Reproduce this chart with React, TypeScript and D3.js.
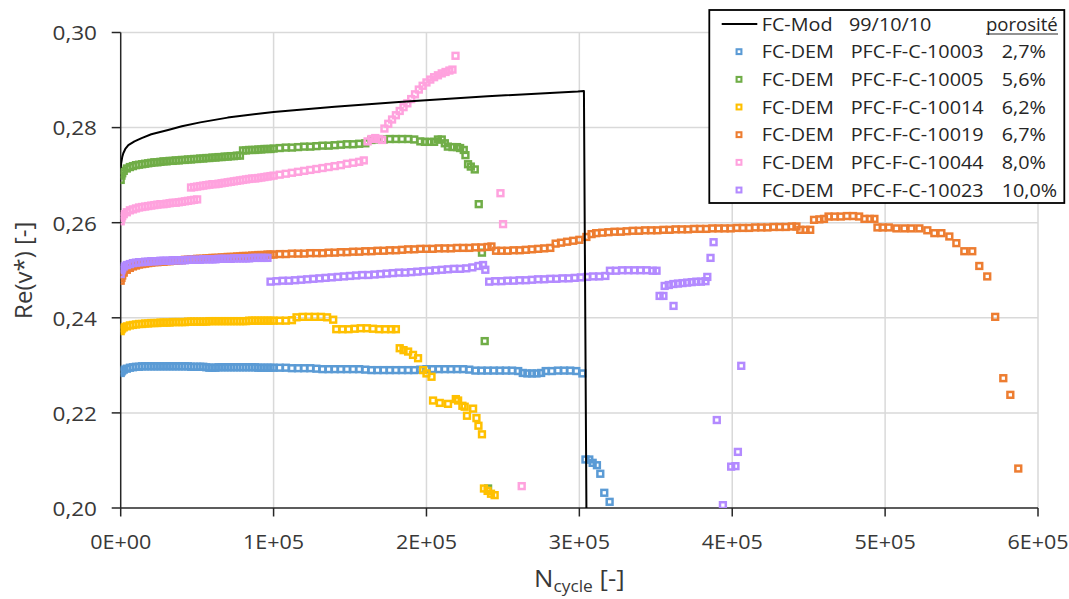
import React from "react";
import * as d3 from "d3";

type P = [number, number]; // [N in thousands of cycles, Re(v*)]

const xTicks = [0, 100000, 200000, 300000, 400000, 500000, 600000];
const yTicks = [0.2, 0.22, 0.24, 0.26, 0.28, 0.3];

const fcModName = "FC-Mod";
const fcModLabel = "99/10/10";
const fcMod: P[] = [
  [0, 0.2715], [0.3, 0.2725], [1, 0.2738], [1.7, 0.2746], [3, 0.2755], [5, 0.2763], [9, 0.2771], [13.7, 0.2778],
  [20, 0.2786], [31, 0.2795], [40, 0.2803], [52, 0.2811], [70, 0.2821], [100, 0.2833], [140, 0.2844], [182, 0.2854],
  [240, 0.2866], [299, 0.2876], [303, 0.2877], [304.8, 0.19],
];

const pfc10003: P[] = [
  [0, 0.2284], [0.5, 0.2287], [1, 0.2289], [2, 0.2291], [4, 0.2293], [6, 0.2295], [8, 0.2296], [10, 0.2297], [12, 0.2297],
  [14, 0.2298], [16, 0.2298], [18, 0.2298], [20, 0.2298], [22, 0.2298], [24, 0.2298], [26, 0.2298], [28, 0.2298], [30, 0.2298],
  [32, 0.2298], [34, 0.2298], [36, 0.2298], [38, 0.2298], [40, 0.2298], [42, 0.2298], [44, 0.2298], [46, 0.2297], [48, 0.2297],
  [50, 0.2297], [52, 0.2297], [54, 0.2297], [56, 0.2296], [58, 0.2295], [60, 0.2295], [62, 0.2295], [64, 0.2296], [66, 0.2296],
  [68, 0.2296], [70, 0.2296], [72, 0.2296], [74, 0.2296], [76, 0.2296], [78, 0.2296], [80, 0.2296], [82, 0.2296], [84, 0.2296],
  [86, 0.2296], [88, 0.2296], [90, 0.2295], [92, 0.2295], [94, 0.2295], [96, 0.2295], [98, 0.2295], [100, 0.2295],
  [104, 0.2295], [108, 0.2295], [112, 0.2294], [116, 0.2294], [120, 0.2294], [124, 0.2294], [128, 0.2293], [132, 0.2292],
  [136, 0.2292], [140, 0.2292], [144, 0.2292], [148, 0.2292], [152, 0.2292], [156, 0.2292], [160, 0.2291], [164, 0.229],
  [168, 0.229], [172, 0.229], [176, 0.229], [180, 0.229], [184, 0.229], [188, 0.229], [192, 0.229], [196, 0.2291], [200, 0.2292],
  [204, 0.2292], [208, 0.2292], [212, 0.2292], [216, 0.2292], [220, 0.2292], [224, 0.2292], [228, 0.2291], [232, 0.2289],
  [236, 0.2289], [240, 0.2289], [244, 0.2289], [248, 0.2289], [252, 0.2289], [256, 0.2289], [260, 0.2288], [263, 0.2284],
  [266, 0.2283], [269, 0.2283], [272, 0.2283], [275, 0.2284], [278, 0.2288], [282, 0.2288], [286, 0.2289], [290, 0.2289],
  [294, 0.2289], [298, 0.2288], [302, 0.2283],
  [304, 0.2102], [306.5, 0.2102], [308.7, 0.2095], [311.5, 0.209], [313.7, 0.2072], [316.3, 0.2032], [319.8, 0.2013],
];

const pfc10005: P[] = [
  [0, 0.269], [0.5, 0.2699], [1, 0.2704], [2, 0.2709], [4, 0.2714], [6, 0.2717], [8, 0.2719], [10, 0.2721], [12, 0.2722],
  [14, 0.2723], [16, 0.2724], [18, 0.2725], [20, 0.2726], [22, 0.2727], [24, 0.2727], [26, 0.2728], [28, 0.2729], [30, 0.2729],
  [32, 0.273], [34, 0.273], [36, 0.2731], [38, 0.2731], [40, 0.2732], [42, 0.2732], [44, 0.2733], [46, 0.2733], [48, 0.2734],
  [50, 0.2734], [52, 0.2735], [54, 0.2735], [56, 0.2736], [58, 0.2736], [60, 0.2737], [62, 0.2737], [64, 0.2738], [66, 0.2738],
  [68, 0.2739], [70, 0.2739], [72, 0.274], [74, 0.274], [76, 0.2741], [78, 0.2741], [80, 0.2752], [82, 0.2752], [84, 0.2753],
  [86, 0.2753], [88, 0.2753], [90, 0.2754], [92, 0.2754], [94, 0.2755], [96, 0.2755], [98, 0.2755], [100, 0.2756],
  [104, 0.2757], [108, 0.2758], [112, 0.2758], [116, 0.2759], [120, 0.276], [124, 0.276], [128, 0.2761], [132, 0.2762],
  [136, 0.2762], [140, 0.2763], [144, 0.2764], [148, 0.2765], [152, 0.2765], [156, 0.2766], [160, 0.2767], [164, 0.2774],
  [168, 0.2775], [172, 0.2775], [176, 0.2776], [180, 0.2776], [184, 0.2776], [188, 0.2776], [192, 0.2775], [196, 0.2771],
  [199, 0.277], [202, 0.277], [205, 0.277], [207.5, 0.2775], [210, 0.2775], [212, 0.2767], [214, 0.276], [217, 0.2759],
  [220, 0.2759], [222, 0.2757], [224.4, 0.2753], [225.5, 0.2742], [227.2, 0.2723], [229, 0.2718], [231.6, 0.2712],
  [234.2, 0.2639], [236.3, 0.2537], [238.1, 0.2351], [240.3, 0.2041],
];

const pfc10014: P[] = [
  [0, 0.2372], [0.5, 0.2376], [1, 0.2378], [2, 0.238], [4, 0.2382], [6, 0.2384], [8, 0.2385], [10, 0.2386], [12, 0.2387],
  [14, 0.2387], [16, 0.2388], [18, 0.2388], [20, 0.2389], [22, 0.2389], [24, 0.2389], [26, 0.239], [28, 0.239], [30, 0.239],
  [32, 0.239], [34, 0.2391], [36, 0.2391], [38, 0.2391], [40, 0.2391], [42, 0.2391], [44, 0.2392], [46, 0.2392], [48, 0.2392],
  [50, 0.2392], [52, 0.2392], [54, 0.2392], [56, 0.2392], [58, 0.2393], [60, 0.2393], [62, 0.2393], [64, 0.2393], [66, 0.2393],
  [68, 0.2393], [70, 0.2393], [72, 0.2393], [74, 0.2393], [76, 0.2393], [78, 0.2393], [80, 0.2393], [82, 0.2393], [84, 0.2394],
  [86, 0.2394], [88, 0.2394], [90, 0.2394], [92, 0.2394], [94, 0.2394], [96, 0.2394], [98, 0.2394], [100, 0.2394],
  [104, 0.2394], [108, 0.2394], [112, 0.2395], [115, 0.2401], [119, 0.2402], [123, 0.2402], [127, 0.2402], [131, 0.2402],
  [135, 0.2401], [139, 0.2396], [141, 0.2376], [145, 0.2376], [149, 0.2376], [153, 0.2377], [157, 0.2378], [161, 0.2378],
  [165, 0.2377], [169, 0.2376], [173, 0.2376], [177, 0.2376], [180, 0.2376],
  [182.5, 0.2336], [185, 0.2332], [188, 0.2329], [191.2, 0.2322], [194.5, 0.2315], [197.8, 0.229], [200, 0.2283],
  [203.3, 0.2276], [204.3, 0.2226], [208.7, 0.2221], [214.1, 0.2219], [219.2, 0.2229], [220.7, 0.2226], [223.5, 0.2215],
  [225, 0.2213], [226.5, 0.2194], [230.5, 0.2209], [232.7, 0.2189], [234, 0.2173], [236.3, 0.2155], [237.6, 0.2041],
  [240, 0.2036], [242.2, 0.203], [244.6, 0.2027],
];

const pfc10019: P[] = [
  [0, 0.2478], [0.5, 0.2484], [1, 0.2489], [2, 0.2495], [4, 0.2501], [6, 0.2505], [8, 0.2508], [10, 0.251], [12, 0.2512],
  [14, 0.2513], [16, 0.2514], [18, 0.2515], [20, 0.2516], [22, 0.2517], [24, 0.2517], [26, 0.2518], [28, 0.2518], [30, 0.2519],
  [32, 0.2519], [34, 0.252], [36, 0.252], [38, 0.2521], [40, 0.2521], [42, 0.2522], [44, 0.2522], [46, 0.2523], [48, 0.2523],
  [50, 0.2524], [52, 0.2524], [54, 0.2524], [56, 0.2525], [58, 0.2525], [60, 0.2526], [62, 0.2526], [64, 0.2526], [66, 0.2527],
  [68, 0.2527], [70, 0.2528], [72, 0.2528], [74, 0.2528], [76, 0.2529], [78, 0.2529], [80, 0.253], [82, 0.253], [84, 0.253],
  [86, 0.2531], [88, 0.2531], [90, 0.2532], [92, 0.2532], [94, 0.2532], [96, 0.2533], [98, 0.2533], [100, 0.2533],
  [104, 0.2534], [108, 0.2534], [112, 0.2535], [116, 0.2535], [120, 0.2535], [124, 0.2536], [128, 0.2536], [132, 0.2536],
  [136, 0.2537], [140, 0.2537], [144, 0.2538], [148, 0.2538], [152, 0.2539], [156, 0.2539], [160, 0.254], [164, 0.254],
  [168, 0.2541], [172, 0.2541], [176, 0.2542], [180, 0.2542], [184, 0.2543], [188, 0.2544], [192, 0.2544], [196, 0.2545],
  [200, 0.2545], [204, 0.2545], [208, 0.2546], [212, 0.2546], [216, 0.2546], [220, 0.2547], [224, 0.2547], [228, 0.2547],
  [232, 0.2548], [236, 0.2548], [240, 0.2549], [242.5, 0.255], [245.5, 0.2541], [249, 0.2541], [253, 0.2541], [257, 0.2542],
  [261, 0.2542], [265, 0.2543], [269, 0.2544], [273, 0.2545], [277, 0.2546], [281, 0.2547], [284.5, 0.2556], [288, 0.2558],
  [292, 0.256], [296, 0.2562], [300, 0.2564], [304.6, 0.257], [308, 0.2576], [311, 0.2578], [315, 0.2579], [319, 0.258],
  [323, 0.2581], [327, 0.2581], [331, 0.2582], [335, 0.2583], [339, 0.2583], [343, 0.2584], [347, 0.2584], [351, 0.2584],
  [355, 0.2585], [359, 0.2585], [363, 0.2586], [367, 0.2586], [371, 0.2586], [375, 0.2587], [379, 0.2587], [383, 0.2587],
  [387, 0.2588], [391, 0.2588], [395, 0.2588], [399, 0.2588], [403, 0.2589], [407, 0.2589], [411, 0.2589], [415, 0.259],
  [419, 0.259], [423, 0.259], [427, 0.2591], [431, 0.2591], [435, 0.2591], [439, 0.2592], [442, 0.2592], [444.5, 0.2585],
  [448, 0.2585], [451, 0.2585], [453.5, 0.2606], [457, 0.2607], [460, 0.2608], [463, 0.2613], [467, 0.2613], [471, 0.2613],
  [475, 0.2614], [479, 0.2614], [483, 0.2613], [486.5, 0.2608], [490, 0.2608], [493, 0.2608], [495, 0.259], [498.4, 0.259],
  [502.4, 0.259], [507.4, 0.2588], [512.6, 0.2588], [517.2, 0.2588], [522.4, 0.2588], [527.6, 0.2584], [532.2, 0.2578],
  [536.8, 0.2578], [542, 0.2571], [546.6, 0.2557], [551.8, 0.254], [557, 0.254], [561.6, 0.2509], [566.8, 0.2487],
  [572, 0.2402], [577.3, 0.2273], [581.9, 0.2238], [587.1, 0.2083],
];

const pfc10044: P[] = [
  [0, 0.2603], [0.5, 0.261], [1, 0.2614], [2, 0.2618], [4, 0.2622], [6, 0.2626], [8, 0.2628], [10, 0.263], [12, 0.2632],
  [14, 0.2633], [16, 0.2634], [18, 0.2635], [20, 0.2636], [22, 0.2637], [24, 0.2638], [26, 0.2639], [28, 0.2639], [30, 0.264],
  [32, 0.2641], [34, 0.2642], [36, 0.2642], [38, 0.2643], [40, 0.2644], [42, 0.2645], [44, 0.2646], [46, 0.2647], [48, 0.2648],
  [50, 0.2649],
  [46, 0.2674], [48, 0.2675], [50, 0.2676], [52, 0.2677], [54, 0.2678], [56, 0.2679], [58, 0.268], [60, 0.2681], [62, 0.2681],
  [64, 0.2682], [66, 0.2683], [68, 0.2684], [70, 0.2685], [72, 0.2686], [74, 0.2687], [76, 0.2688], [78, 0.2689], [80, 0.269],
  [82, 0.2691], [84, 0.2692], [86, 0.2693], [88, 0.2693], [90, 0.2694], [92, 0.2695], [94, 0.2696], [96, 0.2697], [98, 0.2698],
  [100, 0.2699], [104, 0.2701], [108, 0.2703], [112, 0.2705], [116, 0.2707], [120, 0.2709], [124, 0.2711], [128, 0.2713],
  [132, 0.2715], [136, 0.2717], [140, 0.2719], [144, 0.2721], [148, 0.2724], [152, 0.2726], [156, 0.2728], [159, 0.2731],
  [161.5, 0.2771], [164, 0.2776], [166.5, 0.2778], [169, 0.2776], [171, 0.2774],
  [172.5, 0.2798], [175, 0.2808], [177.5, 0.2817], [180, 0.2826], [182.5, 0.2835], [185, 0.2843], [187.5, 0.2851],
  [190, 0.286], [192.5, 0.287], [195, 0.288], [197.5, 0.2888], [200, 0.2895], [202.5, 0.2901], [205, 0.2906], [207.5, 0.291],
  [210, 0.2914], [212.5, 0.2917], [215, 0.292], [217, 0.2922], [219, 0.2951],
  [248.4, 0.2662], [250.1, 0.2597], [262.3, 0.2046],
];

const pfc10023: P[] = [
  [0, 0.2492], [0.5, 0.25], [1, 0.2504], [2, 0.2508], [4, 0.2511], [6, 0.2513], [8, 0.2515], [10, 0.2516], [12, 0.2517],
  [14, 0.2517], [16, 0.2518], [18, 0.2518], [20, 0.2519], [22, 0.2519], [24, 0.2519], [26, 0.252], [28, 0.252], [30, 0.252],
  [32, 0.252], [34, 0.2521], [36, 0.2521], [38, 0.2521], [40, 0.2521], [42, 0.2521], [44, 0.2522], [46, 0.2522], [48, 0.2522],
  [50, 0.2522], [52, 0.2522], [54, 0.2523], [56, 0.2523], [58, 0.2523], [60, 0.2523], [62, 0.2523], [64, 0.2524], [66, 0.2524],
  [68, 0.2524], [70, 0.2524], [72, 0.2524], [74, 0.2525], [76, 0.2525], [78, 0.2525], [80, 0.2525], [82, 0.2525], [84, 0.2525],
  [86, 0.2526], [88, 0.2526], [90, 0.2526], [92, 0.2526], [94, 0.2526], [96, 0.2526],
  [98, 0.2476], [102, 0.2477], [106, 0.2478], [110, 0.2478], [114, 0.2479], [118, 0.248], [122, 0.2481], [126, 0.2482],
  [130, 0.2483], [134, 0.2484], [138, 0.2485], [142, 0.2486], [146, 0.2487], [150, 0.2488], [154, 0.2489], [158, 0.249],
  [162, 0.249], [166, 0.2491], [170, 0.2492], [174, 0.2493], [178, 0.2494], [182, 0.2495], [186, 0.2495], [190, 0.2496],
  [194, 0.2497], [198, 0.2498], [202, 0.2499], [206, 0.25], [210, 0.2501], [214, 0.2502], [218, 0.2503], [222, 0.2503],
  [226, 0.2504], [230, 0.2506], [234, 0.2509], [237, 0.2511], [238.5, 0.2501],
  [241, 0.2476], [245, 0.2477], [249, 0.2477], [253, 0.2478], [257, 0.2478], [261, 0.2479], [265, 0.2479], [269, 0.248],
  [273, 0.2481], [277, 0.2481], [281, 0.2482], [285, 0.2482], [289, 0.2483], [293, 0.2483], [297, 0.2484], [301, 0.2485],
  [305, 0.2486], [309, 0.2487], [313, 0.2487], [317, 0.2488], [320, 0.2499], [324, 0.2499], [328, 0.25], [332, 0.25],
  [336, 0.25], [340, 0.25], [344, 0.25], [348, 0.2499], [350.5, 0.2499],
  [352.5, 0.2446], [355, 0.2446], [355.8, 0.2467], [358.5, 0.2469], [361.5, 0.2471], [361.6, 0.2425], [364.5, 0.2472],
  [367.5, 0.2473], [370.5, 0.2474], [373.5, 0.2475], [376.5, 0.2476], [379.5, 0.2476], [382.5, 0.2477], [383.7, 0.2486],
  [385.8, 0.2526], [387.8, 0.2559], [389.9, 0.2185], [393.9, 0.2006], [399.3, 0.2087], [402.1, 0.2088], [403.7, 0.2118],
  [405.9, 0.2299],
];

const seriesMethod = "FC-DEM";
const seriesNames = ["PFC-F-C-10003", "PFC-F-C-10005", "PFC-F-C-10014", "PFC-F-C-10019", "PFC-F-C-10044", "PFC-F-C-10023"];
const seriesPorosity = ["2,7%", "5,6%", "6,2%", "6,7%", "8,0%", "10,0%"];
const seriesData = [pfc10003, pfc10005, pfc10014, pfc10019, pfc10044, pfc10023];
const porosityHeader = "porosité";
const yTitle = "Re(v*) [-]";

const COLORS = ["#5B9BD5", "#70AD47", "#FFC000", "#ED7D31", "#FFA2DE", "#B38AFF"];
const FONT = "'Open Sans', sans-serif";
const TXT = "#383838";

function T(props: {
  x: number; y: number; size: number; anchor?: string; sx?: number; fill?: string; children: React.ReactNode;
}) {
  const { x, y, size, anchor = "start", sx = 1.1, fill = TXT, children } = props;
  return (
    <text transform={`translate(${x},${y}) scale(${sx},1)`} textAnchor={anchor as any}
      fontSize={size} fontFamily={FONT} fill={fill}>{children}</text>
  );
}

export default function App() {
  const W = 1069, H = 599;
  const PL = 120.7, PR = 1038, PT = 32.5, PB = 508;
  const x = d3.scaleLinear().domain([0, 600000]).range([PL, PR]);
  const y = d3.scaleLinear().domain([0.2, 0.3]).range([PB, PT]);
  const xk = (n: number) => x(n * 1000);
  const line = d3.line<P>().x((d) => xk(d[0])).y((d) => y(d[1]));
  const xFmt = (d: number) => (d === 0 ? "0E+00" : `${d / 100000}E+05`);
  const yFmt = (d: number) => d.toFixed(2).replace(".", ",");
  const MS = 5.8, MW = 2.5;

  const legX = 709.3, legY = 10, legW = 355, legH = 193;
  const rowY = (i: number) => 24 + i * 27.67;

  return (
    <svg width={W} height={H} style={{ position: "absolute", left: 0, top: 0, background: "#fff" }}>
      <defs>
        <clipPath id="plotClip">
          <rect x={PL} y={PT - 5} width={PR - PL + 5} height={PB - PT + 5} />
        </clipPath>
      </defs>
      <rect x={0} y={0} width={W} height={H} fill="#fff" />
      {yTicks.filter((t) => t > 0.2001).map((t) => (
        <line key={"gy" + t} x1={PL} x2={PR} y1={y(t)} y2={y(t)} stroke="#D9D9D9" strokeWidth={1.5} />
      ))}
      {xTicks.filter((t) => t > 0).map((t) => (
        <line key={"gx" + t} x1={x(t)} x2={x(t)} y1={PT} y2={PB} stroke="#D9D9D9" strokeWidth={1.5} />
      ))}
      <line x1={PL} x2={PL} y1={PT} y2={PB} stroke="#262626" strokeWidth={1.5} />
      <line x1={PL} x2={PR} y1={PB} y2={PB} stroke="#262626" strokeWidth={1.5} />
      {yTicks.map((t) => (
        <g key={"ty" + t}>
          <line x1={PL - 9} x2={PL} y1={y(t)} y2={y(t)} stroke="#262626" strokeWidth={1.5} />
          <T x={97} y={y(t) + 7.8} size={20.5} anchor="end">{yFmt(t)}</T>
        </g>
      ))}
      {xTicks.map((t) => (
        <g key={"tx" + t}>
          <line x1={x(t)} x2={x(t)} y1={PB} y2={PB + 8.5} stroke="#262626" strokeWidth={1.5} />
          <T x={x(t)} y={548.5} size={20.5} anchor="middle" sx={1.05}>{xFmt(t)}</T>
        </g>
      ))}
      <text transform={`translate(32,${(PT + PB) / 2}) rotate(-90)`} textAnchor="middle" fontSize={24}
        fontFamily={FONT} fill={TXT}>{yTitle}</text>
      <text transform="translate(534,587) scale(1.12,1)" fontSize={23} fontFamily={FONT} fill={TXT}>
        N<tspan fontSize={15.5} dy={5}>cycle</tspan><tspan dy={-5}> [-]</tspan>
      </text>

      <g clipPath="url(#plotClip)">
        {seriesData.map((data, si) => (
          <g key={"s" + si}>
            {data.map((d, i) => (
              <rect key={i} x={xk(d[0]) - MS / 2} y={y(d[1]) - MS / 2} width={MS} height={MS}
                fill="none" stroke={COLORS[si]} strokeWidth={MW} />
            ))}
          </g>
        ))}
        <path d={line(fcMod) || ""} fill="none" stroke="#000" strokeWidth={2} strokeLinejoin="round" />
      </g>

      <rect x={legX} y={legY} width={legW} height={legH} fill="#fff" stroke="#000" strokeWidth={1.8} />
      <line x1={721.7} x2={757.3} y1={rowY(0)} y2={rowY(0)} stroke="#000" strokeWidth={2.2} />
      <T x={761.7} y={rowY(0) + 6.5} size={18} sx={1.1} fill="#262626">{fcModName}</T>
      <T x={849} y={rowY(0) + 6.5} size={18} sx={1.1} fill="#262626">{fcModLabel}</T>
      <T x={986} y={rowY(0) + 6.5} size={18} sx={1.03} fill="#262626">{porosityHeader}</T>
      <line x1={986} x2={1058} y1={rowY(0) + 10} y2={rowY(0) + 10} stroke="#262626" strokeWidth={1.2} />
      {seriesNames.map((nm, i) => (
        <g key={"l" + i}>
          <rect x={739 - 2.4} y={rowY(i + 1) - 2.4} width={4.8} height={4.8} fill="none" stroke={COLORS[i]} strokeWidth={2.1} />
          <T x={761.7} y={rowY(i + 1) + 6.5} size={18} sx={1.1} fill="#262626">{seriesMethod}</T>
          <T x={850.7} y={rowY(i + 1) + 6.5} size={18} sx={1.1} fill="#262626">{nm}</T>
          <T x={1001.7} y={rowY(i + 1) + 6.5} size={18} sx={1.1} fill="#262626">{seriesPorosity[i]}</T>
        </g>
      ))}
    </svg>
  );
}
